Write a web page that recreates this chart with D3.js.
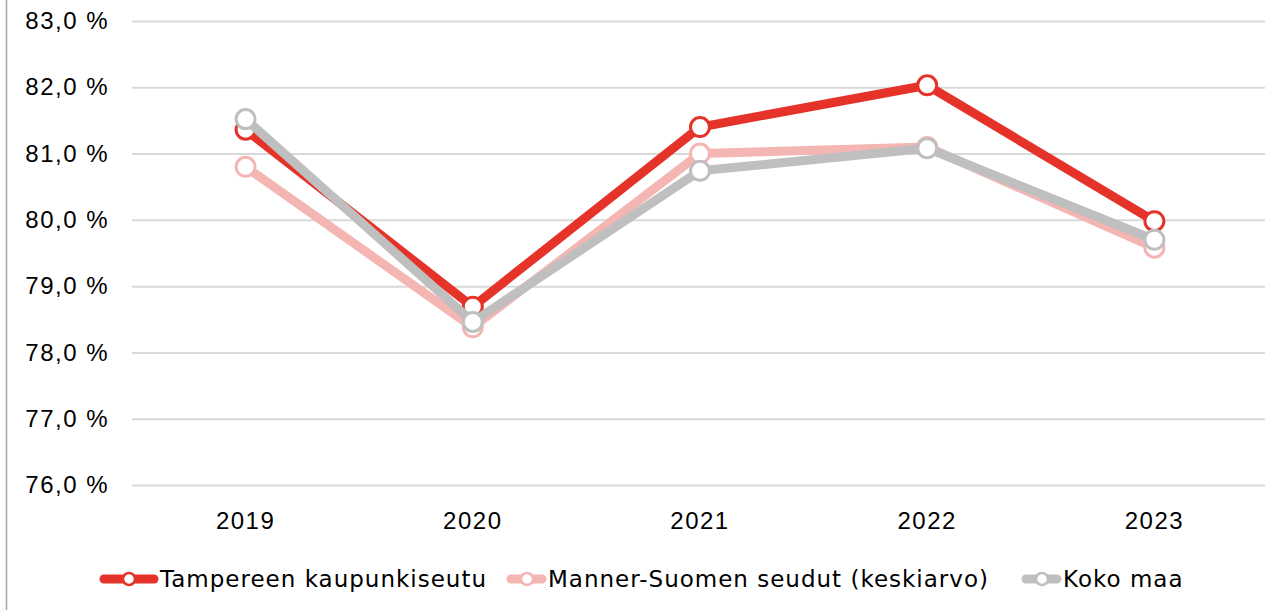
<!DOCTYPE html>
<html>
<head>
<meta charset="utf-8">
<script src="https://cdn.jsdelivr.net/npm/d3@7"></script>
<style>
body { margin: 0; background: #fff; }
svg { font-family: "DejaVu Sans", sans-serif; }
.axis text { letter-spacing: 1.5px; }
.legendEntry text { letter-spacing: 1px; }
</style>
</head>
<body>
<svg id="chart"></svg>
<script>
var years = ["2019", "2020", "2021", "2022", "2023"]
var seriesNames = ["Tampereen kaupunkiseutu", "Manner-Suomen seudut (keskiarvo)", "Koko maa"]
var seriesColors = ["#e5332a", "#f4b6b2", "#bfbfbf"]
var tampere = [81.36, 78.69, 81.40, 82.03, 79.98]
var manner = [80.80, 78.38, 81.00, 81.10, 79.58]
var kokoMaa = [81.52, 78.46, 80.74, 81.08, 79.70]
var yTicks = [76, 77, 78, 79, 80, 81, 82, 83]

var screen = { width: 1265, height: 610 }
var margins = { left: 132, right: -3, top: 21, bottom: 125 }
var graph = {
    width: screen.width - margins.left - margins.right,
    height: screen.height - margins.top - margins.bottom
}

var svg = d3.select("#chart")
    .attr("width", screen.width)
    .attr("height", screen.height)

// frame line on the left
svg.append("line")
    .attr("x1", 6.5).attr("x2", 6.5)
    .attr("y1", 0).attr("y2", screen.height)
    .attr("stroke", "#a6a6a6")
    .attr("stroke-width", 1.5)

var xScale = d3.scaleBand()
    .domain(years)
    .range([0, graph.width])

var yScale = d3.scaleLinear()
    .domain([76, 83])
    .range([graph.height, 0])

var target = svg.append("g")
    .attr("transform", "translate(" + margins.left + "," + margins.top + ")")

var yAxis = d3.axisLeft(yScale)
    .tickValues(yTicks)
    .tickSize(-graph.width)
    .tickFormat(function (d) { return d.toFixed(1).replace(".", ",") + " %" })

target.append("g")
    .classed("axis", true)
    .call(yAxis)
    .call(function (g) { g.select(".domain").remove() })
    .call(function (g) {
        g.selectAll(".tick line").attr("stroke", "#d9d9d9").attr("stroke-width", 2)
        g.selectAll(".tick text")
            .attr("x", -23)
            .attr("fill", "#000")
            .style("font-size", "24px")
    })

var xAxis = d3.axisBottom(xScale).tickSize(0)
target.append("g")
    .classed("axis", true)
    .attr("transform", "translate(0," + graph.height + ")")
    .call(xAxis)
    .call(function (g) { g.select(".domain").remove() })
    .call(function (g) {
        g.selectAll(".tick text")
            .attr("dy", "1.7em")
            .attr("fill", "#000")
            .style("font-size", "24px")
    })

var series = [tampere, manner, kokoMaa].map(function (vals, i) {
    return { name: seriesNames[i], color: seriesColors[i], values: vals }
})

var lineGenerator = d3.line()
    .x(function (d, i) { return xScale(years[i]) + xScale.bandwidth() / 2 })
    .y(function (d) { return yScale(d) })

var groups = target.selectAll(".series")
    .data(series)
    .enter()
    .append("g")
    .classed("series", true)

groups.append("path")
    .attr("d", function (s) { return lineGenerator(s.values) })
    .attr("fill", "none")
    .attr("stroke", function (s) { return s.color })
    .attr("stroke-width", 9)
    .attr("stroke-linejoin", "round")

groups.selectAll("circle")
    .data(function (s) { return s.values.map(function (v, i) { return { v: v, i: i, color: s.color } }) })
    .enter()
    .append("circle")
    .attr("cx", function (d) { return xScale(years[d.i]) + xScale.bandwidth() / 2 })
    .attr("cy", function (d) { return yScale(d.v) })
    .attr("r", 9.5)
    .attr("fill", "#fff")
    .attr("stroke", function (d) { return d.color })
    .attr("stroke-width", 3)

// legend
var legendX = [100, 507, 1022]
var legend = svg.append("g").attr("transform", "translate(0,579)")
var entries = legend.selectAll("g")
    .data(series)
    .enter()
    .append("g")
    .classed("legendEntry", true)
    .attr("transform", function (s, i) { return "translate(" + legendX[i] + ",0)" })

entries.append("line")
    .attr("x1", 4).attr("x2", function (s, i) { return i === 0 ? 54 : 35 })
    .attr("y1", 0).attr("y2", 0)
    .attr("stroke", function (s) { return s.color })
    .attr("stroke-width", 9)
    .attr("stroke-linecap", "round")

entries.append("circle")
    .attr("cx", function (s, i) { return i === 0 ? 29 : 20 })
    .attr("cy", 0)
    .attr("r", 6)
    .attr("fill", "#fff")
    .attr("stroke", function (s) { return s.color })
    .attr("stroke-width", 2.5)

entries.append("text")
    .attr("x", function (s, i) { return i === 0 ? 60 : 41 })
    .attr("y", 0)
    .attr("dy", "0.36em")
    .attr("fill", "#000")
    .style("font-size", "23px")
    .text(function (s) { return s.name })
</script>
</body>
</html>
